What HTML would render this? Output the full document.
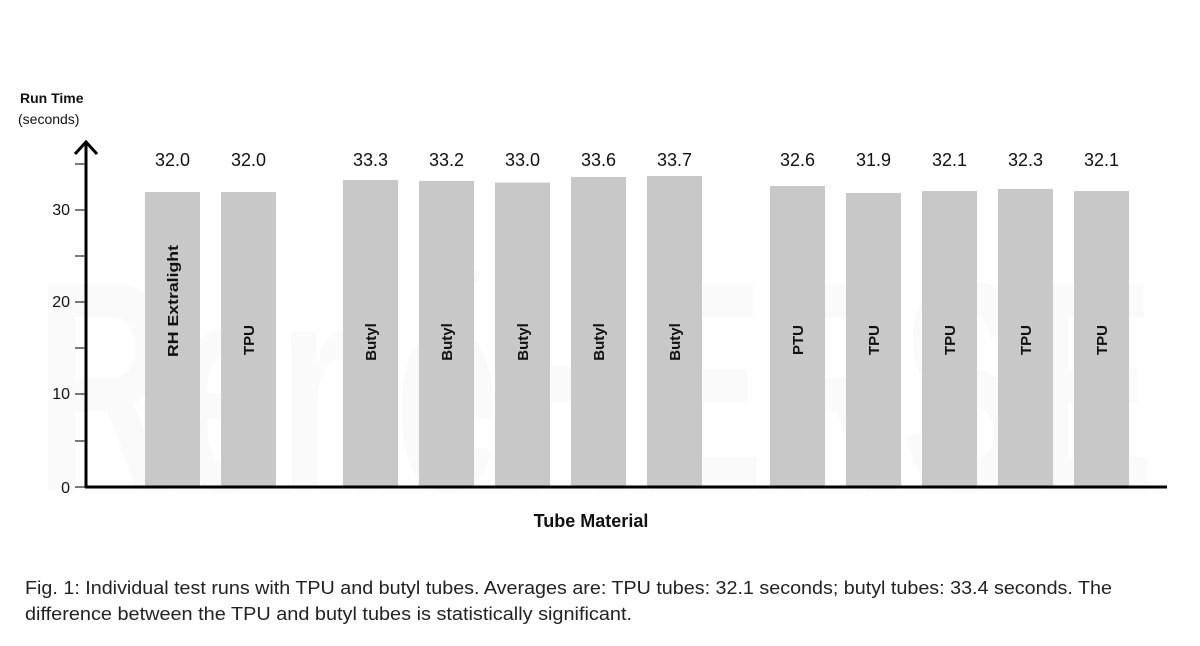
<!DOCTYPE html>
<html><head><meta charset="utf-8"><style>html,body{margin:0;padding:0;background:#fff}svg{display:block}</style></head>
<body>
<svg width="1200" height="646" viewBox="0 0 1200 646" xmlns="http://www.w3.org/2000/svg" font-family="Liberation Sans, sans-serif">
<rect width="1200" height="646" fill="#fff"/>
<g fill="#000" fill-opacity="0.02" font-weight="bold">
<text x="35" y="490" font-size="300" textLength="1120" lengthAdjust="spacingAndGlyphs">RenéHERSE</text>
</g>
<g fill="#c8c8c8">
<rect x="145" y="192" width="55" height="295"/>
<rect x="221" y="192" width="55" height="295"/>
<rect x="343" y="180" width="55" height="307"/>
<rect x="419" y="181" width="55" height="306"/>
<rect x="495" y="182.5" width="55" height="304.5"/>
<rect x="571" y="177" width="55" height="310"/>
<rect x="647" y="176" width="55" height="311"/>
<rect x="770" y="186" width="55" height="301"/>
<rect x="846" y="193" width="55" height="294"/>
<rect x="922" y="191" width="55" height="296"/>
<rect x="998" y="189" width="55" height="298"/>
<rect x="1074" y="191" width="55" height="296"/>
</g>
<g font-size="18" text-anchor="middle" fill="#111">
<text x="172.5" y="166">32.0</text><text x="248.5" y="166">32.0</text>
<text x="370.5" y="166">33.3</text><text x="446.5" y="166">33.2</text>
<text x="522.5" y="166">33.0</text><text x="598.5" y="166">33.6</text>
<text x="674.5" y="166">33.7</text><text x="797.5" y="166">32.6</text>
<text x="873.5" y="166">31.9</text><text x="949.5" y="166">32.1</text>
<text x="1025.5" y="166">32.3</text><text x="1101.5" y="166">32.1</text>
</g>
<g font-size="15" font-weight="bold" text-anchor="middle" fill="#111">
<text transform="translate(178,301) rotate(-90)" textLength="112" lengthAdjust="spacingAndGlyphs">RH Extralight</text>
<text transform="translate(254,340) rotate(-90)">TPU</text>
<text transform="translate(376,342) rotate(-90)">Butyl</text>
<text transform="translate(452,342) rotate(-90)">Butyl</text>
<text transform="translate(528,342) rotate(-90)">Butyl</text>
<text transform="translate(604,342) rotate(-90)">Butyl</text>
<text transform="translate(680,342) rotate(-90)">Butyl</text>
<text transform="translate(803,340) rotate(-90)">PTU</text>
<text transform="translate(879,340) rotate(-90)">TPU</text>
<text transform="translate(955,340) rotate(-90)">TPU</text>
<text transform="translate(1031,340) rotate(-90)">TPU</text>
<text transform="translate(1107,340) rotate(-90)">TPU</text>
</g>
<g stroke="#000" fill="none">
<line x1="86" y1="141" x2="86" y2="488" stroke-width="3"/>
<line x1="85" y1="487" x2="1167" y2="487" stroke-width="3"/>
<polyline points="75,154 86,142 97,154" stroke-width="3"/>
<g stroke-width="1.3" stroke="#333">
<line x1="75" y1="487" x2="85" y2="487"/><line x1="75" y1="441" x2="85" y2="441"/>
<line x1="75" y1="394" x2="85" y2="394"/><line x1="75" y1="348" x2="85" y2="348"/>
<line x1="75" y1="302" x2="85" y2="302"/><line x1="75" y1="256" x2="85" y2="256"/>
<line x1="75" y1="210" x2="85" y2="210"/><line x1="75" y1="164" x2="85" y2="164"/>
</g>
</g>
<g font-size="16" text-anchor="end" fill="#111">
<text x="70" y="493">0</text><text x="70" y="399">10</text>
<text x="70" y="307">20</text><text x="70" y="215">30</text>
</g>
<text x="20" y="103" font-size="14" font-weight="bold" fill="#111">Run Time</text>
<text x="18" y="124" font-size="14" fill="#111">(seconds)</text>
<text x="591" y="527" font-size="18" font-weight="bold" text-anchor="middle" fill="#111">Tube Material</text>
<g font-size="18" fill="#222">
<text x="25" y="594" textLength="1087" lengthAdjust="spacingAndGlyphs">Fig. 1: Individual test runs with TPU and butyl tubes. Averages are: TPU tubes: 32.1 seconds; butyl tubes: 33.4 seconds. The</text>
<text x="25" y="620" textLength="607" lengthAdjust="spacingAndGlyphs">difference between the TPU and butyl tubes is statistically significant.</text>
</g>
</svg>
</body></html>
